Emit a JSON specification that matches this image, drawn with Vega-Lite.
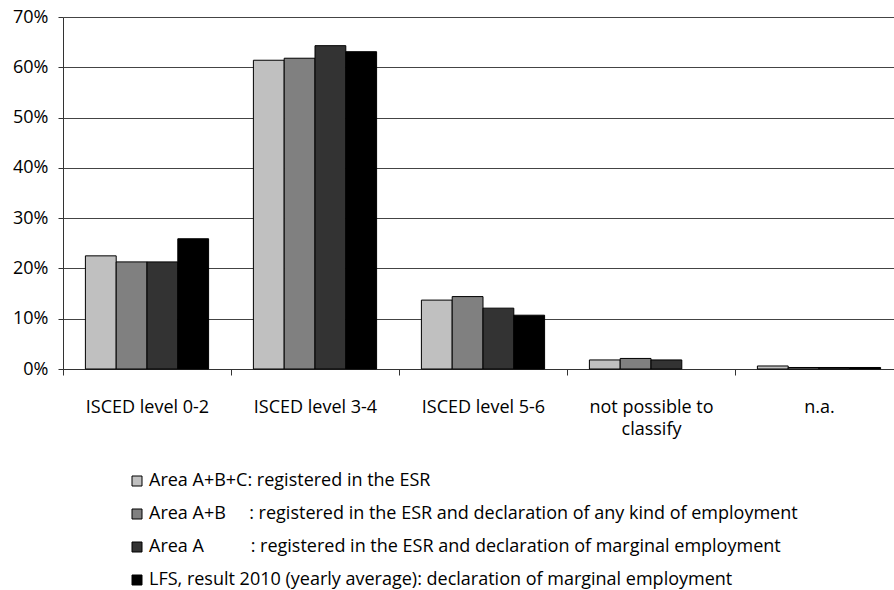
{
  "$schema": "https://vega.github.io/schema/vega-lite/v6.json",
  "autosize": "none",
  "width": 831,
  "height": 352,
  "padding": {"left": 63, "top": 17, "right": 0, "bottom": 221},
  "background": "white",
  "config": {
    "font": "Open Sans",
    "view": {"stroke": null}
  },
  "datasets": {
    "main": [
      {"category": "ISCED level 0-2", "series": "Area A+B+C", "value": 0.225},
      {"category": "ISCED level 0-2", "series": "Area A+B", "value": 0.213},
      {"category": "ISCED level 0-2", "series": "Area A", "value": 0.213},
      {"category": "ISCED level 0-2", "series": "LFS", "value": 0.259},
      {"category": "ISCED level 3-4", "series": "Area A+B+C", "value": 0.614},
      {"category": "ISCED level 3-4", "series": "Area A+B", "value": 0.618},
      {"category": "ISCED level 3-4", "series": "Area A", "value": 0.643},
      {"category": "ISCED level 3-4", "series": "LFS", "value": 0.631},
      {"category": "ISCED level 5-6", "series": "Area A+B+C", "value": 0.137},
      {"category": "ISCED level 5-6", "series": "Area A+B", "value": 0.144},
      {"category": "ISCED level 5-6", "series": "Area A", "value": 0.121},
      {"category": "ISCED level 5-6", "series": "LFS", "value": 0.107},
      {"category": "not possible to classify", "series": "Area A+B+C", "value": 0.018},
      {"category": "not possible to classify", "series": "Area A+B", "value": 0.021},
      {"category": "not possible to classify", "series": "Area A", "value": 0.018},
      {"category": "not possible to classify", "series": "LFS", "value": 0.0},
      {"category": "n.a.", "series": "Area A+B+C", "value": 0.006},
      {"category": "n.a.", "series": "Area A+B", "value": 0.003},
      {"category": "n.a.", "series": "Area A", "value": 0.003},
      {"category": "n.a.", "series": "LFS", "value": 0.003}
    ]
  },
  "data": {"name": "main"},
  "mark": {"type": "bar", "stroke": "black", "strokeWidth": 1},
  "encoding": {
    "x": {
      "field": "category",
      "type": "nominal",
      "sort": null,
      "scale": {"range": [0, 840], "paddingInner": 0, "paddingOuter": 0},
      "axis": {
        "title": null,
        "labelAngle": 0,
        "tickBand": "extent",
        "domainColor": "#333",
        "tickColor": "#333",
        "tickSize": 6,
        "labelFontSize": 18,
        "labelColor": "#000",
        "labelPadding": 32,
        "labelLineHeight": 22,
        "labelBaseline": "middle",
        "labelExpr": "datum.label == 'not possible to classify' ? ['not possible to', 'classify'] : datum.label"
      }
    },
    "xOffset": {
      "field": "series",
      "type": "nominal",
      "sort": null,
      "scale": {"paddingOuter": 0.727, "paddingInner": 0}
    },
    "y": {
      "field": "value",
      "type": "quantitative",
      "scale": {"domain": [0, 0.7], "nice": false},
      "axis": {
        "title": null,
        "format": ".0%",
        "values": [0, 0.1, 0.2, 0.3, 0.4, 0.5, 0.6, 0.7],
        "labelOverlap": false,
        "grid": true,
        "gridColor": "#444",
        "gridWidth": 1,
        "domainColor": "#333",
        "tickColor": "#333",
        "tickSize": 5,
        "labelFontSize": 18,
        "labelColor": "#000",
        "labelPadding": 10
      }
    },
    "strokeOpacity": {
      "condition": {"test": "datum.value == 0", "value": 0},
      "value": 1
    },
    "fill": {
      "field": "series",
      "type": "nominal",
      "sort": null,
      "scale": {
        "domain": ["Area A+B+C", "Area A+B", "Area A", "LFS"],
        "range": ["#c0c0c0", "#808080", "#333333", "#000000"]
      },
      "legend": {
        "title": null,
        "orient": "none",
        "legendX": 65,
        "legendY": 455,
        "direction": "vertical",
        "symbolType": "square",
        "symbolSize": 100,
        "symbolStrokeColor": "#000",
        "symbolStrokeWidth": 1,
        "labelFontSize": 18,
        "labelColor": "#000",
        "labelOffset": 3,
        "rowPadding": 15,
        "labelLimit": 800,
        "labelExpr": "datum.label == 'Area A+B+C' ? 'Area A+B+C: registered in the ESR' : datum.label == 'Area A+B' ? 'Area A+B\u00a0\u00a0\u00a0\u00a0\u00a0: registered in the ESR and declaration of any kind of employment' : datum.label == 'Area A' ? 'Area A\u00a0\u00a0\u00a0\u00a0\u00a0\u00a0\u00a0\u00a0\u00a0\u00a0: registered in the ESR and declaration of marginal employment' : 'LFS, result 2010 (yearly average): declaration of marginal employment'"
      }
    }
  }
}
